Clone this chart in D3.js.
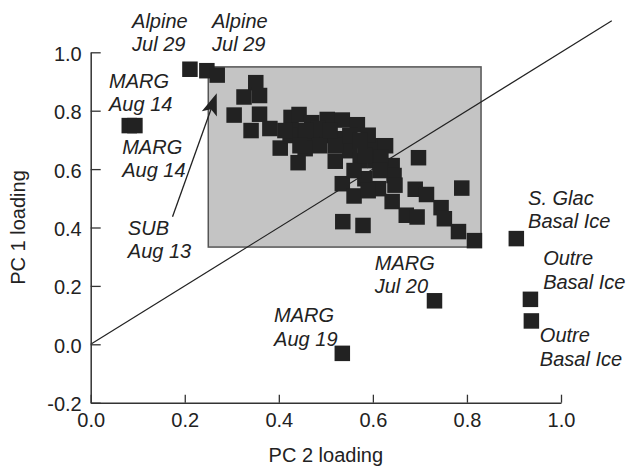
<!DOCTYPE html>
<html>
<head>
<meta charset="utf-8">
<script src="https://cdn.jsdelivr.net/npm/d3@7/dist/d3.min.js"></script>
<style>
  html, body { margin: 0; padding: 0; background: #fff; }
  svg { display: block; font-family: "Liberation Sans", Arial, Helvetica, sans-serif; }
</style>
</head>
<body>
<svg id="chart" width="632" height="469"></svg>
<script>
// PC 2 loading (x) and PC 1 loading (y) for each sample
const pc2 = [
  0.211, 0.247, 0.269, 0.082, 0.094,
  0.351, 0.326, 0.359, 0.359, 0.305, 0.341, 0.381, 0.403, 0.441, 0.426,
  0.443, 0.443, 0.470, 0.503, 0.535, 0.567, 0.500, 0.532, 0.470, 0.424,
  0.520, 0.551, 0.583, 0.598, 0.627, 0.573, 0.605, 0.641, 0.645, 0.583,
  0.535, 0.560, 0.560, 0.536, 0.579, 0.612, 0.641, 0.671, 0.694, 0.697,
  0.690, 0.714, 0.745, 0.752, 0.782, 0.816, 0.789, 0.483, 0.590, 0.617,
  0.458, 0.487, 0.520, 0.551, 0.456, 0.583, 0.615, 0.590, 0.647,
  0.445, 0.413, 0.573, 0.509,
  0.905, 0.731, 0.535, 0.935, 0.937
];
const pc1 = [
  0.942, 0.937, 0.922, 0.749, 0.749,
  0.896, 0.847, 0.852, 0.788, 0.785, 0.732, 0.739, 0.672, 0.622, 0.777,
  0.787, 0.732, 0.759, 0.770, 0.768, 0.752, 0.715, 0.704, 0.698, 0.715,
  0.627, 0.663, 0.698, 0.680, 0.680, 0.629, 0.629, 0.612, 0.578, 0.567,
  0.550, 0.508, 0.595, 0.420, 0.407, 0.533, 0.489, 0.442, 0.436, 0.639,
  0.531, 0.513, 0.468, 0.430, 0.386, 0.355, 0.535, 0.739, 0.716, 0.639,
  0.732, 0.680, 0.680, 0.715, 0.670, 0.646, 0.595, 0.526, 0.545,
  0.680, 0.732, 0.698, 0.732,
  0.362, 0.149, -0.031, 0.154, 0.080
];

// Shaded reference box [pc2 min, pc2 max, pc1 min, pc1 max]
const boxBounds = [0.25, 0.83, 0.333, 0.95];
// 1:1 line end
const diagonalEnd = 1.108;

// Axis ticks
const xTicks = [0.0, 0.2, 0.4, 0.6, 0.8, 1.0];
const xTickLabels = ["0.0", "0.2", "0.4", "0.6", "0.8", "1.0"];
const yTicks = [-0.2, 0.0, 0.2, 0.4, 0.6, 0.8, 1.0];
const yTickLabels = ["-0.2", "0.0", "0.2", "0.4", "0.6", "0.8", "1.0"];

// Sample annotations: two text lines anchored at [pc2, pc1]
const labelLine1 = ["Alpine", "Alpine", "MARG", "MARG", "SUB", "MARG", "MARG", "S. Glac", "Outre", "Outre"];
const labelLine2 = ["Jul 29", "Jul 29", "Aug 14", "Aug 14", "Aug 13", "Aug 19", "Jul 20", "Basal Ice", "Basal Ice", "Basal Ice"];
const labelX = [0.088, 0.258, 0.039, 0.067, 0.079, 0.390, 0.604, 0.930, 0.962, 0.955];
const labelY = [1.084, 1.084, 0.878, 0.653, 0.376, 0.075, 0.255, 0.478, 0.270, 0.007];

// Arrow from the SUB label to its sample: [pc2, pc1] start and tip
const arrowFrom = [0.174, 0.437];
const arrowTo = [0.268, 0.860];

const svg = d3.select("#chart");
const x = d3.scaleLinear().domain([0, 1]).range([90.7, 561]);
const y = d3.scaleLinear().domain([-0.2, 1.0]).range([402.7, 52.3]);

const ink = "#222";
const sq = 15.5;

// shaded box
svg.append("rect")
  .attr("x", x(boxBounds[0]))
  .attr("y", y(boxBounds[3]))
  .attr("width", x(boxBounds[1]) - x(boxBounds[0]))
  .attr("height", y(boxBounds[2]) - y(boxBounds[3]))
  .attr("fill", "#c4c4c4")
  .attr("stroke", "#555")
  .attr("stroke-width", 1.5);

// 1:1 line
svg.append("line")
  .attr("x1", x(0)).attr("y1", y(0))
  .attr("x2", x(diagonalEnd)).attr("y2", y(diagonalEnd))
  .attr("stroke", ink)
  .attr("stroke-width", 1.2);

// axes
const xAxis = d3.axisBottom(x)
  .tickValues(xTicks)
  .tickFormat((d, i) => xTickLabels[i])
  .tickSizeInner(-8)
  .tickSizeOuter(0)
  .tickPadding(10);
const yAxis = d3.axisLeft(y)
  .tickValues(yTicks)
  .tickFormat((d, i) => yTickLabels[i])
  .tickSizeInner(-10)
  .tickSizeOuter(0)
  .tickPadding(9);

const gx = svg.append("g").attr("transform", `translate(0,${y(-0.2)})`).call(xAxis);
const gy = svg.append("g").attr("transform", `translate(${x(0)},0)`).call(yAxis);

[gx, gy].forEach(g => {
  g.select(".domain").attr("stroke", "#333").attr("stroke-width", 1.5);
  g.selectAll(".tick line").attr("stroke", "#333").attr("stroke-width", 1.3);
  g.selectAll(".tick text")
    .attr("fill", ink)
    .style("font-family", '"Liberation Sans", Arial, sans-serif')
    .style("font-size", "20px");
});
gy.selectAll(".tick text").attr("dy", "0.4em");

// axis titles
svg.append("text")
  .attr("x", x(0.5)).attr("y", 461.5)
  .attr("text-anchor", "middle")
  .attr("fill", ink)
  .style("font-size", "20px")
  .text("PC 2 loading");
svg.append("text")
  .attr("transform", `translate(25,${y(0.4)}) rotate(-90)`)
  .attr("text-anchor", "middle")
  .attr("fill", ink)
  .style("font-size", "20px")
  .text("PC 1 loading");

// sample squares
svg.append("g")
  .selectAll("rect")
  .data(pc2.map((d, i) => [d, pc1[i]]))
  .join("rect")
  .attr("x", d => x(d[0]) - sq / 2)
  .attr("y", d => y(d[1]) - sq / 2)
  .attr("width", sq)
  .attr("height", sq)
  .attr("fill", ink);

// annotations
const lab = svg.append("g")
  .attr("fill", ink)
  .style("font-size", "20px")
  .style("font-style", "italic");
labelLine1.forEach((t, i) => {
  const tx = lab.append("text").attr("x", x(labelX[i])).attr("y", y(labelY[i]));
  tx.append("tspan").attr("x", x(labelX[i])).text(t);
  tx.append("tspan").attr("x", x(labelX[i])).attr("dy", 23.5).text(labelLine2[i]);
});

// arrow to the SUB sample
const ax0 = x(arrowFrom[0]), ay0 = y(arrowFrom[1]);
const ax1 = x(arrowTo[0]), ay1 = y(arrowTo[1]);
const ang = Math.atan2(ay1 - ay0, ax1 - ax0);
const headLen = 22, headHalf = 8;
const bx = ax1 - headLen * Math.cos(ang), by = ay1 - headLen * Math.sin(ang);
svg.append("line")
  .attr("x1", ax0).attr("y1", ay0)
  .attr("x2", bx + 6 * Math.cos(ang)).attr("y2", by + 6 * Math.sin(ang))
  .attr("stroke", ink).attr("stroke-width", 1.3);
const nx = -Math.sin(ang), ny = Math.cos(ang);
const notchX = ax1 - (headLen - 5) * Math.cos(ang), notchY = ay1 - (headLen - 5) * Math.sin(ang);
svg.append("path")
  .attr("d", `M${ax1},${ay1} L${bx + nx * headHalf},${by + ny * headHalf} L${notchX},${notchY} L${bx - nx * headHalf},${by - ny * headHalf} Z`)
  .attr("fill", ink);
</script>
</body>
</html>
